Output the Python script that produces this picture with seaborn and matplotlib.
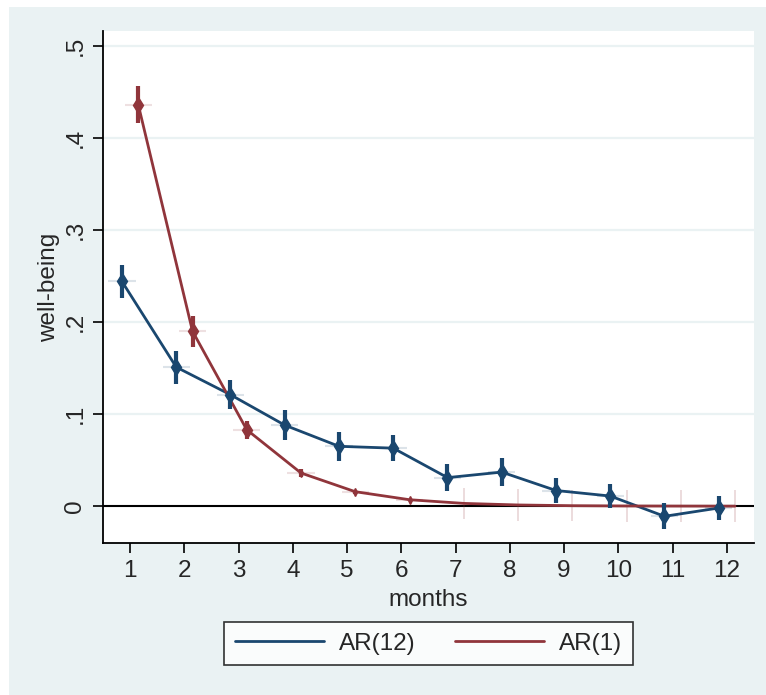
import numpy as np
import pandas as pd
import seaborn as sns
import matplotlib.pyplot as plt
from matplotlib.patches import Rectangle

# values
months = list(range(1, 13))
ar12 = [0.244, 0.151, 0.121, 0.088, 0.065, 0.063, 0.031, 0.037, 0.017, 0.011, -0.011, -0.002]
ar12_se = [0.018, 0.018, 0.016, 0.016, 0.016, 0.014, 0.015, 0.015, 0.014, 0.013, 0.014, 0.013]
ar1 = [0.436, 0.190, 0.083, 0.036, 0.0157, 0.007, 0.003, 0.0013, 0.0005, 0.0002, 0.0001, 0.00004]
ar1_se = [0.020, 0.017, 0.010, 0.004, 0.002, 0.001, 0.017, 0.017, 0.017, 0.017, 0.017, 0.017]
series_names = ["AR(12)", "AR(1)"]

blue = "#1a476f"
red = "#90353b"
bg = "#eaf2f3"
fs = 17.5

sns.set_theme(style="white")
plt.rcParams['font.family'] = ['Liberation Sans', 'DejaVu Sans']

df = pd.DataFrame({
    "month": months * 2,
    "value": ar12 + ar1,
    "model": [series_names[0]] * 12 + [series_names[1]] * 12,
})
df["x"] = df["month"] + np.where(df["model"] == series_names[0], -0.15, 0.15)

fig = plt.figure(figsize=(7.66, 6.95), dpi=100)
fig.patch.set_facecolor("white")
fig.add_artist(Rectangle((9 / 766, 0), 1, 1 - 7 / 695, transform=fig.transFigure,
                         facecolor=bg, edgecolor="none", zorder=-5))
ax = fig.add_axes([103 / 766, 1 - 543 / 695, 651 / 766, 512 / 695])
ax.set_facecolor("white")

for y in [0.1, 0.2, 0.3, 0.4, 0.5]:
    ax.axhline(y, color=bg, lw=1.6, zorder=0)
ax.axhline(0, color="black", lw=1.5, zorder=1)

sns.lineplot(data=df, x="x", y="value", hue="model", palette=[blue, red],
             lw=2, ax=ax, legend=False, zorder=3)

for name, vals, se, col in [(series_names[0], ar12, ar12_se, blue),
                            (series_names[1], ar1, ar1_se, red)]:
    xs = df.loc[df["model"] == name, "x"].values
    vals = np.array(vals)
    se = np.array(se)
    if name == "AR(1)":
        solid = np.array(months) < 7
    else:
        solid = np.ones(12, bool)
    # confidence spikes
    ax.errorbar(xs[solid], vals[solid], yerr=se[solid], fmt="none",
                ecolor=col, elinewidth=3, capsize=0, zorder=4)
    ax.errorbar(xs[~solid], vals[~solid], yerr=se[~solid], fmt="none",
                ecolor=col, elinewidth=1.2, alpha=0.2, capsize=0, zorder=2)
    sizes = np.where(se > 0.009, 8, 4)
    for xi, yi, s, ok in zip(xs, vals, sizes, solid):
        if ok:
            ax.plot(xi, yi, marker="d", ms=s, color=col, mec=col, zorder=5)
    ax.errorbar(xs[solid], vals[solid], xerr=0.25, fmt="none",
                ecolor=col, elinewidth=1.5, alpha=0.15, capsize=0, zorder=2)

ax.set_xlim(0.5, 12.5)
ax.set_ylim(-0.04, 0.516)
ax.set_xticks(months)
ax.set_xticklabels([str(m) for m in months], fontsize=fs)
ax.set_yticks([0, 0.1, 0.2, 0.3, 0.4, 0.5])
ax.set_yticklabels(["0", ".1", ".2", ".3", ".4", ".5"], fontsize=fs, rotation=90, va="center")
ax.tick_params(axis="both", direction="out", length=7, width=1.2, color="black", pad=5)
ax.tick_params(left=True, bottom=True)
ax.set_xlabel("months", fontsize=fs, labelpad=5)
ax.set_ylabel("well-being", fontsize=fs, labelpad=3)

sns.despine(ax=ax)
for side in ["left", "bottom"]:
    ax.spines[side].set_color("black")
    ax.spines[side].set_linewidth(1.3)

handles = [plt.Line2D([], [], color=blue, lw=2), plt.Line2D([], [], color=red, lw=2)]
leg = fig.legend(handles, series_names, loc="center", bbox_to_anchor=(428.5 / 766, 1 - 643.5 / 695),
                 ncol=2, fontsize=fs, frameon=True, fancybox=False, edgecolor="black",
                 handlelength=3.66, handletextpad=0.62, columnspacing=1.65, borderpad=0.45)
leg.get_frame().set_linewidth(1.2)
leg.get_frame().set_facecolor("white")

fig.savefig("out.png", dpi=100, facecolor=fig.get_facecolor())
